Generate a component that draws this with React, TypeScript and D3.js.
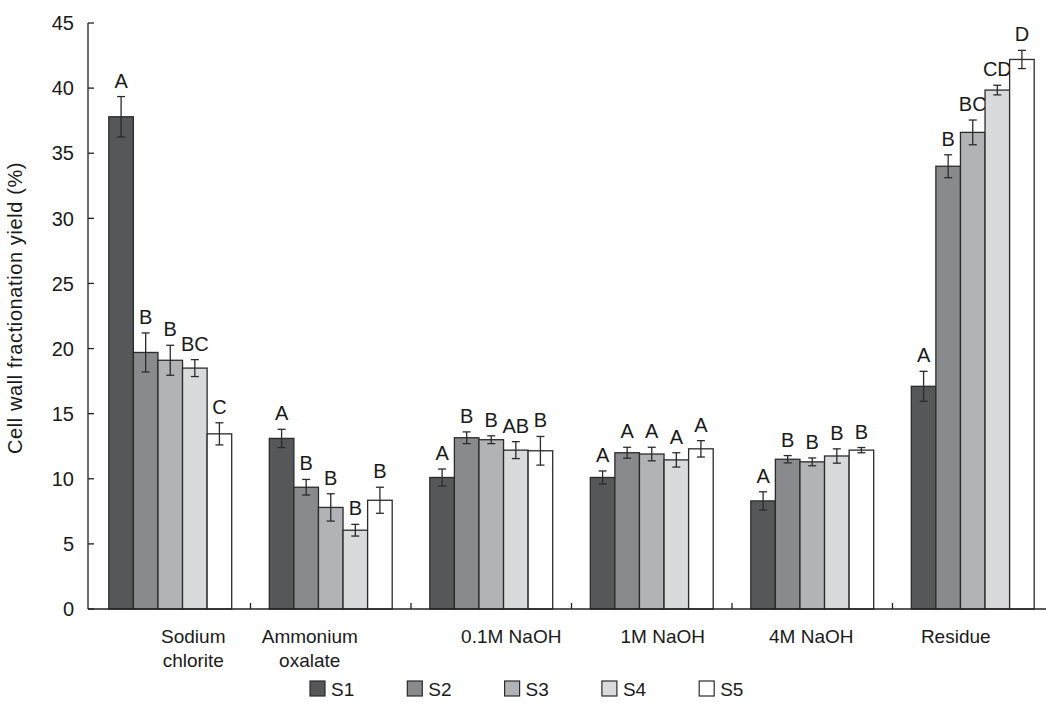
import React from "react";
import * as d3 from "d3";

// fractions on the x axis (label lines split on "\n")
const categories = ["Sodium\nchlorite", "Ammonium\noxalate", "0.1M NaOH", "1M NaOH", "4M NaOH", "Residue"];
const series = ["S1", "S2", "S3", "S4", "S5"];

// mean yield (%) per series, one value per fraction
const s1 = [37.8, 13.1, 10.1, 10.1, 8.3, 17.1];
const s2 = [19.7, 9.35, 13.15, 12.0, 11.5, 34.0];
const s3 = [19.1, 7.8, 13.0, 11.9, 11.3, 36.6];
const s4 = [18.5, 6.05, 12.2, 11.45, 11.75, 39.85];
const s5 = [13.45, 8.35, 12.15, 12.3, 12.2, 42.2];

// error bar half-heights
const e1 = [1.55, 0.7, 0.65, 0.5, 0.7, 1.15];
const e2 = [1.5, 0.6, 0.45, 0.42, 0.28, 0.88];
const e3 = [1.15, 1.05, 0.3, 0.52, 0.3, 0.95];
const e4 = [0.65, 0.45, 0.65, 0.55, 0.55, 0.37];
const e5 = [0.85, 1.0, 1.1, 0.63, 0.2, 0.7];

// significance letters
const l1 = ["A", "A", "A", "A", "A", "A"];
const l2 = ["B", "B", "B", "A", "B", "B"];
const l3 = ["B", "B", "B", "A", "B", "BC"];
const l4 = ["BC", "B", "AB", "A", "B", "CD"];
const l5 = ["C", "B", "B", "A", "B", "D"];

const yTicks = [0, 5, 10, 15, 20, 25, 30, 35, 40, 45];

const values = [s1, s2, s3, s4, s5];
const errors = [e1, e2, e3, e4, e5];
const letters = [l1, l2, l3, l4, l5];

const fills = ["#555759", "#898a8d", "#b2b3b6", "#d9dadc", "#ffffff"];
// category label nudges (the original labels are not centred on their groups)
const labelNudge = [23, -21, 20, 11, -1, -17];

const font = "'Liberation Sans', Arial, Helvetica, sans-serif";

export default function App() {
  const W = 1046, H = 706;
  const axisX = 88;
  const x0 = d3.scaleBand().domain(categories).range([90, 1053]).paddingInner(0).paddingOuter(0);
  const x1 = d3.scaleBand().domain(series).range([0, x0.bandwidth()]).paddingInner(0).paddingOuter(0.765);
  const y = d3.scaleLinear().domain([0, 45]).range([609, 23]);

  const bars: any[] = [];
  categories.forEach((c, ci) => {
    series.forEach((s, si) => {
      const v = values[si][ci];
      const e = errors[si][ci];
      const bx = (x0(c) as number) + (x1(s) as number);
      const bw = x1.bandwidth();
      const cx = bx + bw / 2;
      bars.push(
        <g key={c + s}>
          <rect x={bx} y={y(v)} width={bw} height={y(0) - y(v)} fill={fills[si]} stroke="#2b2b2b" strokeWidth={1.3} />
          <line x1={cx} x2={cx} y1={y(v + e)} y2={y(v - e)} stroke="#2b2b2b" strokeWidth={1.3} />
          <line x1={cx - 4} x2={cx + 4} y1={y(v + e)} y2={y(v + e)} stroke="#2b2b2b" strokeWidth={1.3} />
          <line x1={cx - 4} x2={cx + 4} y1={y(v - e)} y2={y(v - e)} stroke="#2b2b2b" strokeWidth={1.3} />
          <text x={cx} y={y(v + e) - 9} textAnchor="middle" fontSize={20} fill="#1a1a1a">{letters[si][ci]}</text>
        </g>
      );
    });
  });

  return (
    <svg width={W} height={H} style={{ position: "absolute", left: 0, top: 0, background: "#fff" }} fontFamily={font}>
      {/* y axis */}
      <line x1={axisX} x2={axisX} y1={y(45)} y2={y(0)} stroke="#222" strokeWidth={1.3} />
      {yTicks.map((t) => (
        <g key={t}>
          <line x1={axisX} x2={axisX + 6} y1={y(t)} y2={y(t)} stroke="#222" strokeWidth={1.3} />
          <text x={74} y={y(t)} dy="0.36em" textAnchor="end" fontSize={20} fill="#1a1a1a">{t}</text>
        </g>
      ))}
      <text transform={`translate(22,${(y(0) + y(45)) / 2 - 8}) rotate(-90)`} textAnchor="middle" fontSize={20} letterSpacing={0.6} fill="#1a1a1a">
        Cell wall fractionation yield (%)
      </text>

      {bars}

      {/* x axis */}
      <line x1={axisX} x2={W} y1={y(0)} y2={y(0)} stroke="#222" strokeWidth={1.3} />
      {categories.slice(1).map((c) => (
        <line key={c} x1={x0(c)} x2={x0(c)} y1={y(0)} y2={y(0) - 6} stroke="#222" strokeWidth={1.3} />
      ))}
      {categories.map((c, ci) => {
        const cx = (x0(c) as number) + x0.bandwidth() / 2 + labelNudge[ci];
        return (
          <text key={c} x={cx} y={643} textAnchor="middle" fontSize={19} fill="#1a1a1a">
            {c.split("\n").map((ln, i) => (
              <tspan key={i} x={cx} dy={i === 0 ? 0 : 24}>{ln}</tspan>
            ))}
          </text>
        );
      })}

      {/* legend */}
      {series.map((s, si) => {
        const lx = 310 + si * 97.3;
        return (
          <g key={s}>
            <rect x={lx} y={681} width={15} height={15} fill={fills[si]} stroke="#2b2b2b" strokeWidth={1.2} />
            <text x={lx + 21} y={696} fontSize={19} fill="#1a1a1a">{s}</text>
          </g>
        );
      })}
    </svg>
  );
}
